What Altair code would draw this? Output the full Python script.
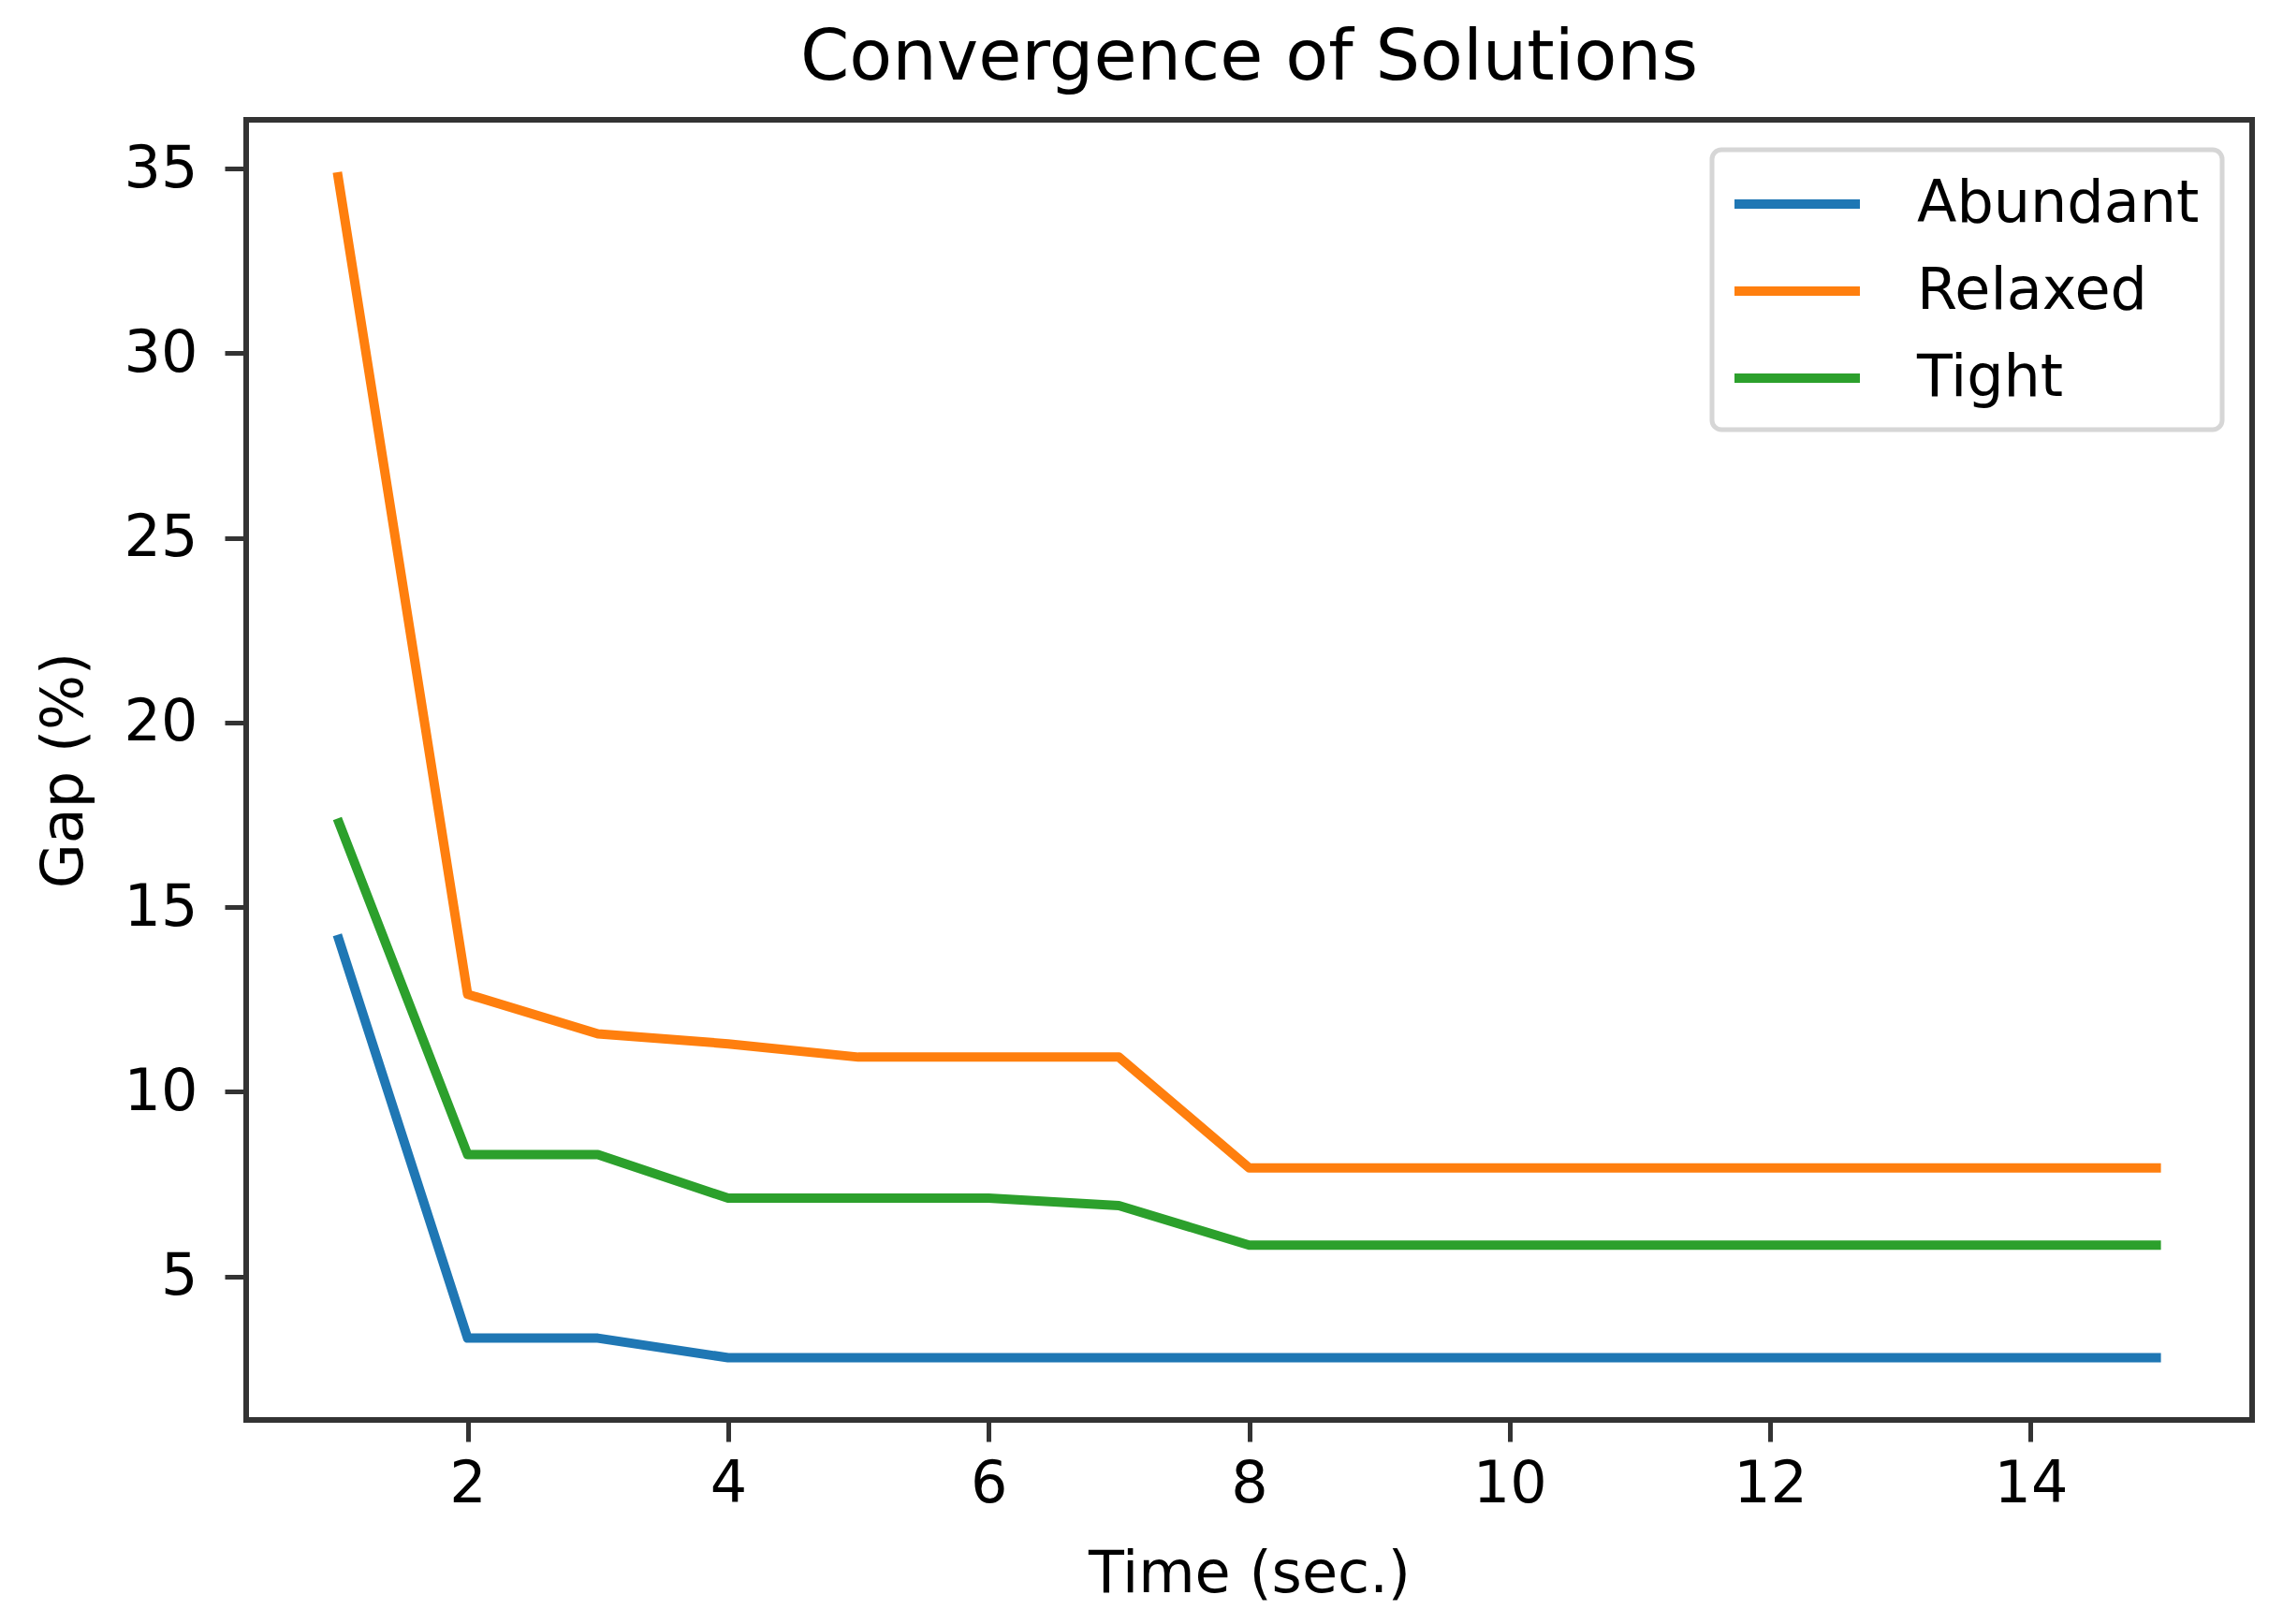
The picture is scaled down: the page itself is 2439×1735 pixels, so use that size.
import altair as alt
import pandas as pd

time_sec = list(range(1, 16))
abundant = [14.25, 3.33, 3.33, 2.8, 2.8, 2.8, 2.8, 2.8, 2.8, 2.8, 2.8, 2.8, 2.8, 2.8, 2.8]
relaxed = [34.9, 12.64, 11.57, 11.3, 10.94, 10.94, 10.94, 7.94, 7.94, 7.94, 7.94, 7.94, 7.94, 7.94, 7.94]
tight = [17.4, 8.3, 8.3, 7.12, 7.12, 7.12, 6.92, 5.85, 5.85, 5.85, 5.85, 5.85, 5.85, 5.85, 5.85]

series_names = ["Abundant", "Relaxed", "Tight"]
series_colors = ["#1f77b4", "#ff7f0e", "#2ca02c"]
x_ticks = [2, 4, 6, 8, 10, 12, 14]
y_ticks = [5, 10, 15, 20, 25, 30, 35]

rows = []
for name, vals in zip(series_names, [abundant, relaxed, tight]):
    for t, v in zip(time_sec, vals):
        rows.append({"Time": t, "Gap": v, "Series": name})
df = pd.DataFrame(rows)

FONT = "DejaVu Sans"

chart = alt.Chart(df).mark_line(strokeWidth=10, strokeJoin="round", strokeCap="butt").encode(
    x=alt.X("Time:Q",
            scale=alt.Scale(domain=[0.3, 15.7], nice=False, zero=False),
            axis=alt.Axis(title="Time (sec.)", values=x_ticks, grid=False, domain=False,
                          tickSize=23, tickWidth=5, tickColor="#333333",
                          labelFontSize=62, labelFont=FONT, labelColor="#000000",
                          labelPadding=15, labelBaseline="top",
                          titleFontSize=62, titleFont=FONT, titleFontWeight="normal",
                          titleColor="#000000", titleBaseline="alphabetic", titleY=183)),
    y=alt.Y("Gap:Q",
            scale=alt.Scale(domain=[1.115, 36.32], nice=False, zero=False),
            axis=alt.Axis(title="Gap (%)", values=y_ticks, grid=False, domain=False,
                          tickSize=23, tickWidth=5, tickColor="#333333",
                          labelFontSize=62, labelFont=FONT, labelColor="#000000",
                          labelPadding=29,
                          titleFontSize=62, titleFont=FONT, titleFontWeight="normal",
                          titleColor="#000000", titleBaseline="alphabetic", titleX=-176)),
    color=alt.Color("Series:N",
                    scale=alt.Scale(domain=series_names, range=series_colors),
                    legend=alt.Legend(title=None, orient="top-right", offset=32,
                                      symbolType="M-2.31,0H2.31", symbolSize=3364,
                                      symbolStrokeWidth=10, symbolOffset=33,
                                      labelFontSize=62, labelFont=FONT, labelColor="#000000",
                                      labelOffset=94, labelLimit=1000,
                                      rowPadding=28, padding=24,
                                      strokeColor="#d6d6d6", fillColor="#ffffff",
                                      cornerRadius=10)),
).properties(
    width=2143,
    height=1389,
    title=alt.TitleParams("Convergence of Solutions", fontSize=75, font=FONT,
                          fontWeight="normal", color="#000000", anchor="middle",
                          baseline="alphabetic", offset=42, dy=74),
    autosize=alt.AutoSizeParams(type="none"),
    padding={"left": 255, "top": 120, "right": 10, "bottom": 205},
).configure_view(
    stroke="#333333", strokeWidth=6
).configure_legend(
    strokeWidth=5
)

chart.save("out.html", embed_options={"renderer": "svg", "actions": False})
